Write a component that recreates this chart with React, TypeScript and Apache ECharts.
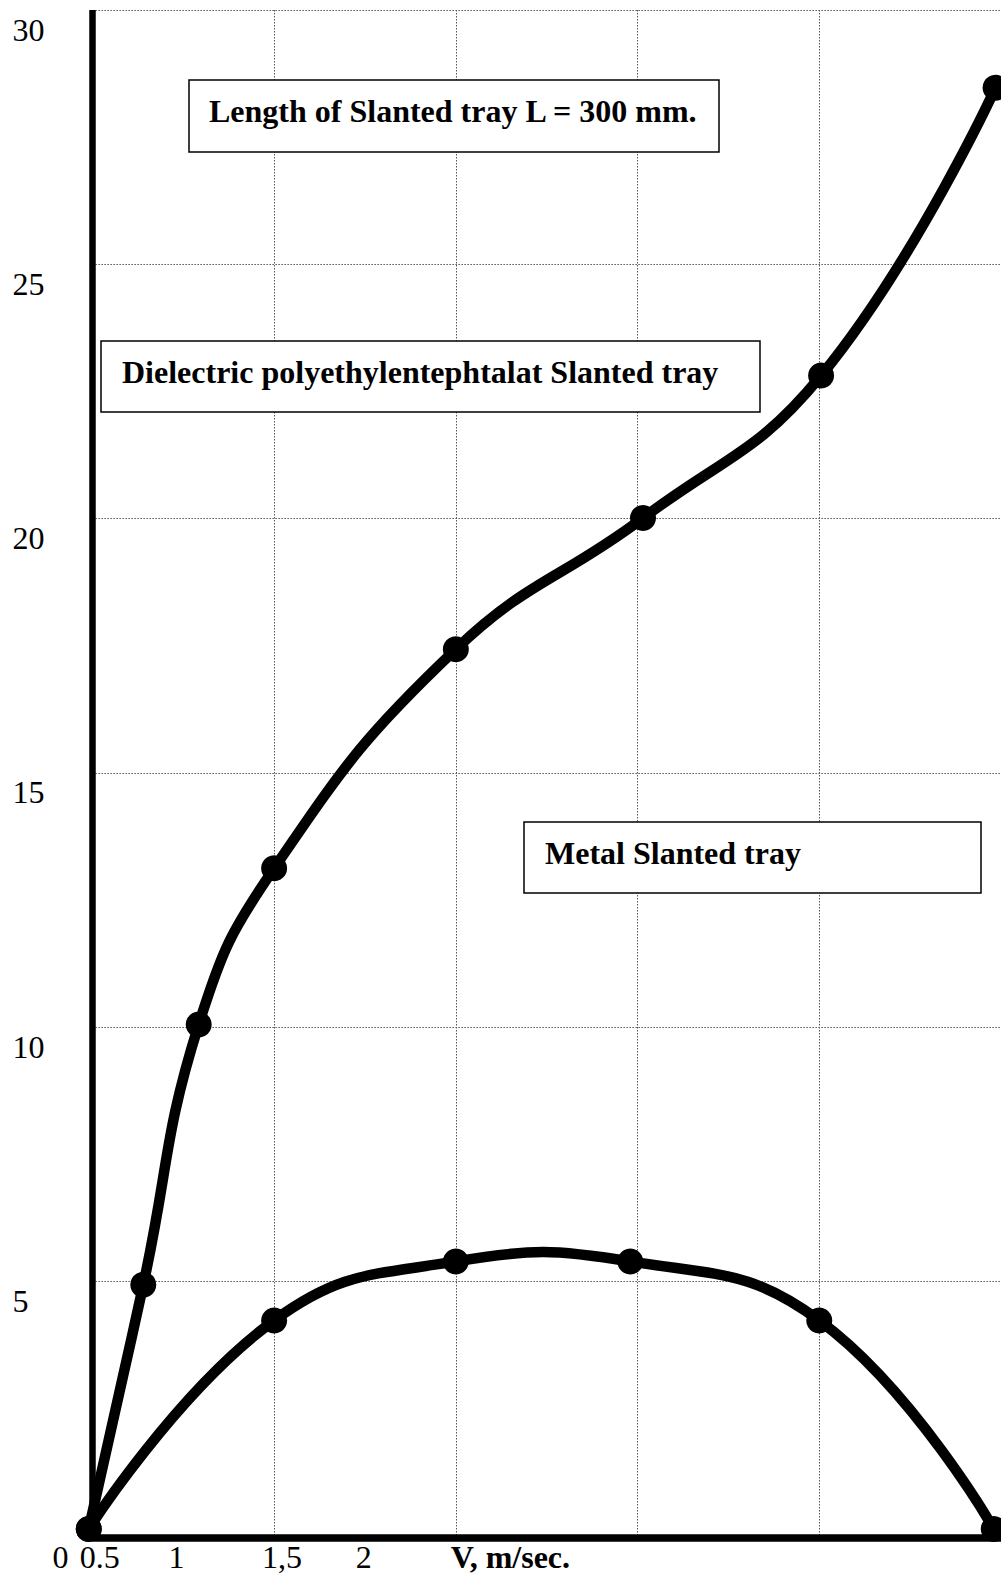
import React, { useEffect, useRef } from 'react';
import * as echarts from 'echarts';

// ---- data ----
const dielectricV = [-0.02, 0.28, 0.585, 1.0, 2.0, 3.03, 4.01, 4.97];
const dielectricT = [0.13, 4.93, 10.05, 13.12, 17.43, 20.01, 22.81, 28.47];
const metalV = [-0.02, 1.0, 2.0, 2.96, 4.0, 4.96];
const metalT = [0.13, 4.23, 5.39, 5.39, 4.23, 0.13];

const xTickLabels = ['0', '0.5', '1', '1,5', '2'];
const xTickLabelAt = [-0.175, 0.041, 0.463, 1.044, 1.493];
const xAxisTitle = 'V, m/sec.';
const xAxisTitleAt = 2.3;

const notes = [
  'Length of Slanted tray L = 300 mm.',
  'Dielectric polyethylentephtalat Slanted tray',
  'Metal Slanted tray',
];

// ---- layout (pixels) ----
const noteBoxes = [
  { x: 189, y: 80, w: 530, h: 72, tx: 209, ty: 111 },
  { x: 101, y: 341, w: 659, h: 71, tx: 122, ty: 372 },
  { x: 524, y: 822, w: 457, h: 71, tx: 545, ty: 853 },
];
const FONT = '"Liberation Serif", "Times New Roman", serif';

function curveSeries(name: string, xs: number[], ys: number[]) {
  return {
    type: 'custom' as const,
    name,
    coordinateSystem: 'cartesian2d',
    clip: false,
    z: 4,
    data: xs.map((v, i) => [v, ys[i]]),
    renderItem: (params: any, api: any) => {
      if (params.dataIndex !== 0) return null;
      const pts = xs.map((v, i) => api.coord([v, ys[i]]));
      return {
        type: 'polyline',
        shape: { points: pts, smooth: 0.45, smoothConstraint: false },
        style: { stroke: '#000', lineWidth: 10.5, fill: 'none', lineJoin: 'round', lineCap: 'round' },
      };
    },
  };
}

function markerSeries(name: string, xs: number[], ys: number[]) {
  return {
    type: 'scatter' as const,
    name,
    symbol: 'circle',
    symbolSize: 26,
    clip: false,
    z: 6,
    itemStyle: { color: '#000', borderWidth: 0, opacity: 1 },
    data: xs.map((v, i) => [v, ys[i]]),
  };
}

export default function App() {
  const ref = useRef<HTMLDivElement>(null);

  useEffect(() => {
    if (!ref.current) return;
    const chart = echarts.init(ref.current, null, { renderer: 'svg' });
    const splitStyle = { color: '#555', width: 1, type: [1.5, 1.5] as any };
    chart.setOption({
      animation: false,
      backgroundColor: '#fff',
      textStyle: { fontFamily: FONT, color: '#000' },
      grid: { left: 92.4, top: 10, width: 913, height: 1525.5, containLabel: false },
      xAxis: {
        type: 'value',
        min: 0,
        max: 5,
        interval: 1,
        offset: 2,
        axisLine: { show: true, onZero: false, lineStyle: { color: '#000', width: 7.5, cap: 'butt' } },
        axisTick: { show: false },
        axisLabel: { show: false },
        splitLine: { show: true, lineStyle: splitStyle },
      },
      yAxis: {
        type: 'value',
        min: 0,
        max: 30,
        interval: 5,
        axisLine: { show: true, onZero: false, lineStyle: { color: '#000', width: 6.5, cap: 'butt' } },
        axisTick: { show: false },
        axisLabel: {
          show: true,
          margin: 80,
          align: 'left',
          verticalAlign: 'top',
          lineHeight: 32,
          padding: [3.5, 0, 0, 0],
          fontSize: 32,
          fontFamily: FONT,
          color: '#000',
          formatter: (v: number) => (v === 0 ? '' : String(v)),
        },
        splitLine: { show: true, lineStyle: splitStyle },
      },
      series: [
        curveSeries('Dielectric', dielectricV, dielectricT),
        curveSeries('Metal', metalV, metalT),
        markerSeries('Dielectric points', dielectricV, dielectricT),
        markerSeries('Metal points', metalV, metalT),
      ],
    });

    const baseY = (chart.convertToPixel({ yAxisIndex: 0 }, 0) as number) + 21;
    const graphics: any[] = [];
    xTickLabels.forEach((t, i) => {
      const px = chart.convertToPixel({ xAxisIndex: 0 }, xTickLabelAt[i]) as number;
      graphics.push({
        type: 'text',
        x: px,
        y: baseY,
        style: { text: t, font: `32px ${FONT}`, fill: '#000', align: 'center', verticalAlign: 'middle' },
        z: 10,
      });
    });
    graphics.push({
      type: 'text',
      x: chart.convertToPixel({ xAxisIndex: 0 }, xAxisTitleAt) as number,
      y: baseY,
      style: { text: xAxisTitle, font: `bold 32px ${FONT}`, fill: '#000', align: 'center', verticalAlign: 'middle' },
      z: 10,
    });
    notes.forEach((t, i) => {
      const b = noteBoxes[i];
      graphics.push({
        type: 'rect',
        shape: { x: b.x, y: b.y, width: b.w, height: b.h },
        style: { fill: '#fff', stroke: '#000', lineWidth: 1.5 },
        z: 3,
      });
      graphics.push({
        type: 'text',
        x: b.tx,
        y: b.ty,
        style: { text: t, font: `bold 32px ${FONT}`, fill: '#000', align: 'left', verticalAlign: 'middle' },
        z: 4,
      });
    });
    chart.setOption({ graphic: graphics });

    return () => chart.dispose();
  }, []);

  return (
    <div
      ref={ref}
      style={{ position: 'absolute', left: 0, top: 0, width: 1001, height: 1578, background: '#fff' }}
    />
  );
}
